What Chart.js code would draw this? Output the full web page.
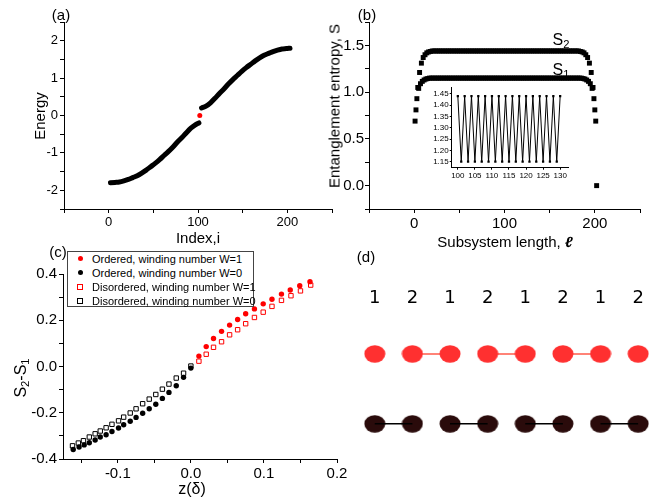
<!DOCTYPE html>
<html>
<head>
<meta charset="utf-8">
<script src="https://cdn.jsdelivr.net/npm/chart.js@4.4.1/dist/chart.umd.min.js"></script>
<style>
  body { margin: 0; background: #fff; }
  #fig { position: relative; width: 670px; height: 502px; overflow: hidden; font-family: "Liberation Sans", Arial, sans-serif; color: #000; }
  #fig canvas { position: absolute; }
  .t { position: absolute; white-space: nowrap; line-height: 1; transform: translate(-50%, -50%); }
  .r { transform: translate(-50%, -50%) rotate(-90deg); }
  sub { font-size: 70%; vertical-align: -0.25em; line-height: 0; }
  #legC { position: absolute; left: 67px; top: 251px; width: 187px; height: 56px; box-sizing: border-box; border: 1px solid #444; background: #fff; font-size: 11px; }
  #legC .row { position: absolute; left: 0; width: 185px; height: 14px; line-height: 14px; white-space: nowrap; }
  #legC .mk { position: absolute; box-sizing: border-box; }
  #legC .tx { position: absolute; left: 24px; top: 0; }
</style>
</head>
<body>
<div id="fig">
  <canvas id="chartA" width="340" height="250" style="left:0px;top:0px"></canvas>
  <canvas id="chartB" width="370" height="250" style="left:300px;top:0px"></canvas>
  <canvas id="chartInset" width="165" height="100" style="left:420px;top:80px"></canvas>
  <canvas id="chartC" width="360" height="252" style="left:0px;top:250px"></canvas>
  <canvas id="chartD" width="330" height="242" style="left:340px;top:260px"></canvas>

  <div class="t" style="left:61px;top:14px;font-size:15px">(a)</div>
  <div class="t" style="left:367px;top:14px;font-size:15px">(b)</div>
  <div class="t" style="left:58px;top:251px;font-size:15px">(c)</div>
  <div class="t" style="left:366px;top:256px;font-size:15px">(d)</div>

  <div class="t r" style="left:39px;top:116px;font-size:15px">Energy</div>
  <div class="t" style="left:198px;top:237px;font-size:15px">Index,i</div>
  <div class="t r" style="left:334px;top:106px;font-size:15px">Entanglement entropy, S</div>
  <div class="t" style="left:505px;top:241px;font-size:15px">Subsystem length, <b><i>ℓ</i></b></div>
  <div class="t" style="left:561px;top:40px;font-size:16px">S<sub>2</sub></div>
  <div class="t" style="left:561px;top:70px;font-size:16px">S<sub>1</sub></div>
  <div class="t r" style="left:21px;top:378px;font-size:16px">S<sub>2</sub>-S<sub>1</sub></div>
  <div class="t" style="left:192px;top:489px;font-size:16px">z(δ)</div>

  <div id="legC"></div>
</div>
<script>
// (a) energy spectrum
const aLowIdx = [2, 7, 12, 17, 22, 27, 32, 37, 42, 47, 52, 57, 62, 67, 72, 77, 82, 87, 92, 97, 101];
const aLowE = [-1.80, -1.79, -1.78, -1.75, -1.71, -1.66, -1.61, -1.54, -1.46, -1.37, -1.28, -1.18, -1.07, -0.96, -0.84, -0.71, -0.59, -0.46, -0.34, -0.25, -0.20];
const aUpIdx = [104, 109, 114, 119, 124, 129, 134, 139, 144, 149, 154, 159, 164, 169, 174, 179, 184, 189, 194, 199, 203];
const aUpE = [0.20, 0.25, 0.34, 0.46, 0.59, 0.71, 0.84, 0.96, 1.07, 1.18, 1.28, 1.37, 1.46, 1.54, 1.61, 1.66, 1.71, 1.75, 1.78, 1.79, 1.80];
const aZeroIdx = [102];
const aZeroE = [0];
const aXTicks = [-50, 0, 50, 100, 150, 200, 250];
const aXLabels = ['', '0', '', '100', '', '200', ''];
const aYTicks = [-2.5, -2, -1.5, -1, -0.5, 0, 0.5, 1, 1.5, 2, 2.5];
const aYLabels = ['', '-2', '', '-1', '', '0', '', '1', '', '2', ''];

// (b) entanglement entropy, even lengths 2..202 (S2) and odd lengths 1..201 (S1)
const bS2Start = 2, bS1Start = 1, bStep = 2;
const bS2 = [
  0.81, 1.05, 1.21, 1.31, 1.37, 1.40, 1.42, 1.43, 1.435, 1.44,
  1.44, 1.44, 1.44, 1.44, 1.44, 1.44, 1.44, 1.44, 1.44, 1.44,
  1.44, 1.44, 1.44, 1.44, 1.44, 1.44, 1.44, 1.44, 1.44, 1.44,
  1.44, 1.44, 1.44, 1.44, 1.44, 1.44, 1.44, 1.44, 1.44, 1.44,
  1.44, 1.44, 1.44, 1.44, 1.44, 1.44, 1.44, 1.44, 1.44, 1.44,
  1.44, 1.44, 1.44, 1.44, 1.44, 1.44, 1.44, 1.44, 1.44, 1.44,
  1.44, 1.44, 1.44, 1.44, 1.44, 1.44, 1.44, 1.44, 1.44, 1.44,
  1.44, 1.44, 1.44, 1.44, 1.44, 1.44, 1.44, 1.44, 1.44, 1.44,
  1.44, 1.44, 1.44, 1.44, 1.44, 1.44, 1.44, 1.44, 1.44, 1.44,
  1.44,
  1.435, 1.43, 1.42, 1.40, 1.37, 1.31, 1.21, 1.05, 0.81, 0.00
];
const bS1 = [
  0.69, 0.93, 1.04, 1.09, 1.115, 1.13, 1.14, 1.145,
  1.15, 1.15, 1.15, 1.15, 1.15, 1.15, 1.15, 1.15, 1.15, 1.15,
  1.15, 1.15, 1.15, 1.15, 1.15, 1.15, 1.15, 1.15, 1.15, 1.15,
  1.15, 1.15, 1.15, 1.15, 1.15, 1.15, 1.15, 1.15, 1.15, 1.15,
  1.15, 1.15, 1.15, 1.15, 1.15, 1.15, 1.15, 1.15, 1.15, 1.15,
  1.15, 1.15, 1.15, 1.15, 1.15, 1.15, 1.15, 1.15, 1.15, 1.15,
  1.15, 1.15, 1.15, 1.15, 1.15, 1.15, 1.15, 1.15, 1.15, 1.15,
  1.15, 1.15, 1.15, 1.15, 1.15, 1.15, 1.15, 1.15, 1.15, 1.15,
  1.15, 1.15, 1.15, 1.15, 1.15, 1.15, 1.15, 1.15, 1.15, 1.15,
  1.15, 1.15, 1.15, 1.15, 1.15,
  1.145, 1.14, 1.13, 1.115, 1.09, 1.04, 0.93, 0.69
];
const bYTicks = [-0.25, 0, 0.25, 0.5, 0.75, 1, 1.25, 1.5, 1.75];
const bYLabels = ['', '0.0', '', '0.5', '', '1.0', '', '1.5', ''];

// (b) inset
const insL = [100, 101, 102, 103, 104, 105, 106, 107, 108, 109, 110, 111, 112, 113, 114, 115,
  116, 117, 118, 119, 120, 121, 122, 123, 124, 125, 126, 127, 128, 129, 130];
const insS = [1.44, 1.15, 1.44, 1.15, 1.44, 1.15, 1.44, 1.15, 1.44, 1.15, 1.44, 1.15, 1.44, 1.15, 1.44, 1.15,
  1.44, 1.15, 1.44, 1.15, 1.44, 1.15, 1.44, 1.15, 1.44, 1.15, 1.44, 1.15, 1.44, 1.15, 1.44];
const insXTicks = [100, 105, 110, 115, 120, 125, 130];
const insXLabels = ['100', '105', '110', '115', '120', '125', '130'];
const insYTicks = [1.15, 1.20, 1.25, 1.30, 1.35, 1.40, 1.45];
const insYLabels = ['1.15', '1.20', '1.25', '1.30', '1.35', '1.40', '1.45'];

// (c) S2 - S1 against z(delta)
const cOrdW1Z = [0.011, 0.021, 0.031, 0.042, 0.053, 0.064, 0.075, 0.087, 0.099, 0.111, 0.124, 0.136, 0.149, 0.163];
const cOrdW1S = [0.045, 0.086, 0.121, 0.152, 0.179, 0.203, 0.228, 0.249, 0.271, 0.291, 0.313, 0.331, 0.349, 0.367];
const cOrdW0Z = [-0.161, -0.153, -0.146, -0.139, -0.131, -0.124, -0.116, -0.108, -0.099, -0.092, -0.083, -0.075, -0.066, -0.057, -0.048, -0.039, -0.030, -0.020, -0.010, 0.000];
const cOrdW0S = [-0.359, -0.348, -0.339, -0.330, -0.318, -0.305, -0.295, -0.281, -0.266, -0.252, -0.237, -0.220, -0.202, -0.183, -0.163, -0.138, -0.112, -0.083, -0.047, -0.007];
const cDisW1Z = [0.011, 0.021, 0.031, 0.042, 0.053, 0.064, 0.075, 0.087, 0.099, 0.111, 0.124, 0.137, 0.150, 0.164];
const cDisW1S = [0.023, 0.053, 0.083, 0.107, 0.137, 0.159, 0.185, 0.212, 0.235, 0.260, 0.286, 0.306, 0.327, 0.352];
const cDisW0Z = [-0.162, -0.154, -0.147, -0.139, -0.131, -0.124, -0.116, -0.108, -0.099, -0.092, -0.083, -0.075, -0.066, -0.057, -0.048, -0.039, -0.030, -0.020, -0.010, 0.000];
const cDisW0S = [-0.343, -0.331, -0.321, -0.305, -0.291, -0.279, -0.265, -0.250, -0.235, -0.219, -0.201, -0.183, -0.161, -0.141, -0.121, -0.098, -0.076, -0.050, -0.029, 0.002];
const cXTicks = [-0.15, -0.1, -0.05, 0, 0.05, 0.1, 0.15, 0.2];
const cXLabels = ['', '-0.1', '', '0.0', '', '0.1', '', '0.2'];
const cYTicks = [-0.4, -0.3, -0.2, -0.1, 0, 0.1, 0.2, 0.3, 0.4];
const cYLabels = ['-0.4', '', '-0.2', '', '0.0', '', '0.2', '', '0.4'];

// (d) dimerised chain sketch
const dSites = [1, 2, 3, 4, 5, 6, 7, 8];
const dSiteLabels = ['1', '2', '1', '2', '1', '2', '1', '2'];
const dLabelRow = 2.79;
const dRedRow = 2;
const dBlackRow = 1;
const dRedBonds = [[2, 3], [4, 5], [6, 7]];
const dBlackBonds = [[1, 2], [3, 4], [5, 6], [7, 8]];

Chart.defaults.font.family = '"Liberation Sans", Arial, sans-serif';
Chart.defaults.color = '#000';

function pts(xs, ys) {
  return xs.map((x, i) => ({ x: x, y: ys[i] }));
}

function axis(pos, min, max, ticks, labels, size, fontSize, tickLen, pad) {
  const horiz = pos === 'bottom';
  return {
    type: 'linear',
    position: pos,
    min: min,
    max: max,
    afterBuildTicks: s => { s.ticks = ticks.map(v => ({ value: v })); },
    afterFit: s => { if (horiz) s.height = size; else s.width = size; },
    grid: { drawOnChartArea: false, drawTicks: true, tickLength: tickLen, color: '#000', lineWidth: 1 },
    border: { display: true, color: '#000', width: 1 },
    ticks: {
      autoSkip: false, maxRotation: 0, padding: pad, color: '#000',
      font: { size: fontSize },
      callback: (v, i) => labels[i]
    }
  };
}

function baseOpts(padding, scales) {
  return {
    responsive: false, animation: false, devicePixelRatio: 1, events: [],
    layout: { padding: padding },
    plugins: { legend: { display: false }, tooltip: { enabled: false } },
    scales: scales
  };
}

// panel (a)
new Chart(document.getElementById('chartA'), {
  type: 'scatter',
  data: {
    datasets: [
      { data: pts(aLowIdx, aLowE), showLine: true, borderColor: '#000', borderWidth: 5, pointRadius: 0,
        cubicInterpolationMode: 'monotone', borderCapStyle: 'round', borderJoinStyle: 'round' },
      { data: pts(aUpIdx, aUpE), showLine: true, borderColor: '#000', borderWidth: 5, pointRadius: 0,
        cubicInterpolationMode: 'monotone', borderCapStyle: 'round', borderJoinStyle: 'round' },
      { data: pts(aZeroIdx, aZeroE), pointRadius: 2.5, backgroundColor: '#ff0000', borderWidth: 0 }
    ]
  },
  options: baseOpts({ left: 0, top: 22, right: 8, bottom: 0 }, {
    x: axis('bottom', -50, 250, aXTicks, aXLabels, 41, 13, 4, 2),
    y: axis('left', -2.5, 2.5, aYTicks, aYLabels, 64, 13, 4, 2)
  })
});

// panel (b)
new Chart(document.getElementById('chartB'), {
  type: 'scatter',
  data: {
    datasets: [
      { data: bS2.map((s, i) => ({ x: bS2Start + bStep * i, y: s })), pointStyle: 'rect', pointRadius: 3.5,
        backgroundColor: '#000', borderWidth: 0 },
      { data: bS1.map((s, i) => ({ x: bS1Start + bStep * i, y: s })), pointStyle: 'rect', pointRadius: 3.5,
        backgroundColor: '#000', borderWidth: 0 }
    ]
  },
  options: baseOpts({ left: 0, top: 22, right: 30, bottom: 0 }, {
    x: axis('bottom', -50, 250, aXTicks, aXLabels, 41, 15, 4, 2),
    y: axis('left', -0.25, 1.75, bYTicks, bYLabels, 69, 15, 4, 1)
  })
});

// inset of (b)
new Chart(document.getElementById('chartInset'), {
  type: 'scatter',
  data: {
    datasets: [
      { data: pts(insL, insS), showLine: true, borderColor: '#000', borderWidth: 1, pointStyle: 'rect',
        pointRadius: 1.6, backgroundColor: '#000', pointBorderWidth: 0 }
    ]
  },
  options: baseOpts({ left: 0, top: 7, right: 17, bottom: 0 }, {
    x: axis('bottom', 98.2, 132.3, insXTicks, insXLabels, 12.3, 8, 2, 1),
    y: axis('left', 1.123, 1.481, insYTicks, insYLabels, 31.7, 8, 2, 1)
  })
});

// panel (c)
const chartC = new Chart(document.getElementById('chartC'), {
  type: 'scatter',
  data: {
    datasets: [
      { label: 'Ordered, winding number W=1', data: pts(cOrdW1Z, cOrdW1S), pointStyle: 'circle', pointRadius: 2.7,
        backgroundColor: '#ff0000', borderColor: '#ff0000', borderWidth: 0 },
      { label: 'Ordered, winding number W=0', data: pts(cOrdW0Z, cOrdW0S), pointStyle: 'circle', pointRadius: 2.7,
        backgroundColor: '#000', borderColor: '#000', borderWidth: 0 },
      { label: 'Disordered, winding number W=1', data: pts(cDisW1Z, cDisW1S), pointStyle: 'rect', pointRadius: 3.1,
        backgroundColor: 'rgba(0,0,0,0)', borderColor: '#ff0000', borderWidth: 1 },
      { label: 'Disordered, winding number W=0', data: pts(cDisW0Z, cDisW0S), pointStyle: 'rect', pointRadius: 3.1,
        backgroundColor: 'rgba(0,0,0,0)', borderColor: '#000', borderWidth: 1 }
    ]
  },
  options: baseOpts({ left: 0, top: 24, right: 23, bottom: 0 }, {
    x: axis('bottom', -0.175, 0.2, cXTicks, cXLabels, 43, 15, 4, 2),
    y: axis('left', -0.4, 0.4, cYTicks, cYLabels, 63, 15, 4, 2)
  })
});

// legend box of (c)
const legC = document.getElementById('legC');
chartC.data.datasets.forEach((ds, i) => {
  const row = document.createElement('div');
  row.className = 'row';
  row.style.top = (i * 14 - 0.5) + 'px';
  const mk = document.createElement('span');
  mk.className = 'mk';
  if (ds.pointStyle === 'circle') {
    mk.style.cssText = 'left:9.5px;top:4.5px;width:5px;height:5px;border-radius:50%;background:' + ds.backgroundColor;
  } else {
    mk.style.cssText = 'left:9px;top:4px;width:6px;height:6px;border:1px solid ' + ds.borderColor;
  }
  const tx = document.createElement('span');
  tx.className = 'tx';
  tx.textContent = ds.label;
  row.appendChild(mk);
  row.appendChild(tx);
  legC.appendChild(row);
});

// panel (d)
function ellipse(color) {
  const c = document.createElement('canvas');
  c.width = 22;
  c.height = 18;
  const g = c.getContext('2d');
  g.fillStyle = color;
  g.beginPath();
  g.ellipse(11, 9, 10.5, 8.7, 0, 0, Math.PI * 2);
  g.fill();
  return c;
}

const siteLabels = {
  id: 'siteLabels',
  afterDatasetsDraw(chart) {
    const ctx = chart.ctx;
    ctx.save();
    ctx.font = '18px "DejaVu Sans"';
    ctx.fillStyle = '#000';
    ctx.textAlign = 'center';
    ctx.textBaseline = 'middle';
    dSites.forEach((s, i) => {
      ctx.fillText(dSiteLabels[i], chart.scales.x.getPixelForValue(s), chart.scales.y.getPixelForValue(dLabelRow));
    });
    ctx.restore();
  }
};

const dDatasets = [];
dRedBonds.forEach(b => dDatasets.push({
  data: b.map(x => ({ x: x, y: dRedRow })), showLine: true, borderColor: '#ff5a4a', borderWidth: 1.5,
  pointRadius: 0, order: 3
}));
dDatasets.push({ data: dSites.map(x => ({ x: x, y: dRedRow })), pointStyle: ellipse('#ff3030'), order: 2 });
dDatasets.push({ data: dSites.map(x => ({ x: x, y: dBlackRow })), pointStyle: ellipse('#2a0b0b'), order: 2 });
dBlackBonds.forEach(b => dDatasets.push({
  data: b.map(x => ({ x: x, y: dBlackRow })), showLine: true, borderColor: '#000', borderWidth: 1.5,
  pointRadius: 0, order: 1
}));

new Chart(document.getElementById('chartD'), {
  type: 'scatter',
  data: { datasets: dDatasets },
  options: {
    responsive: false, animation: false, devicePixelRatio: 1, events: [],
    layout: { padding: 0 },
    plugins: { legend: { display: false }, tooltip: { enabled: false } },
    scales: {
      x: { type: 'linear', display: false, min: 0.209, max: 8.714 },
      y: { type: 'linear', display: false, min: -0.045, max: 3.27 }
    }
  },
  plugins: [siteLabels]
});
</script>
</body>
</html>
